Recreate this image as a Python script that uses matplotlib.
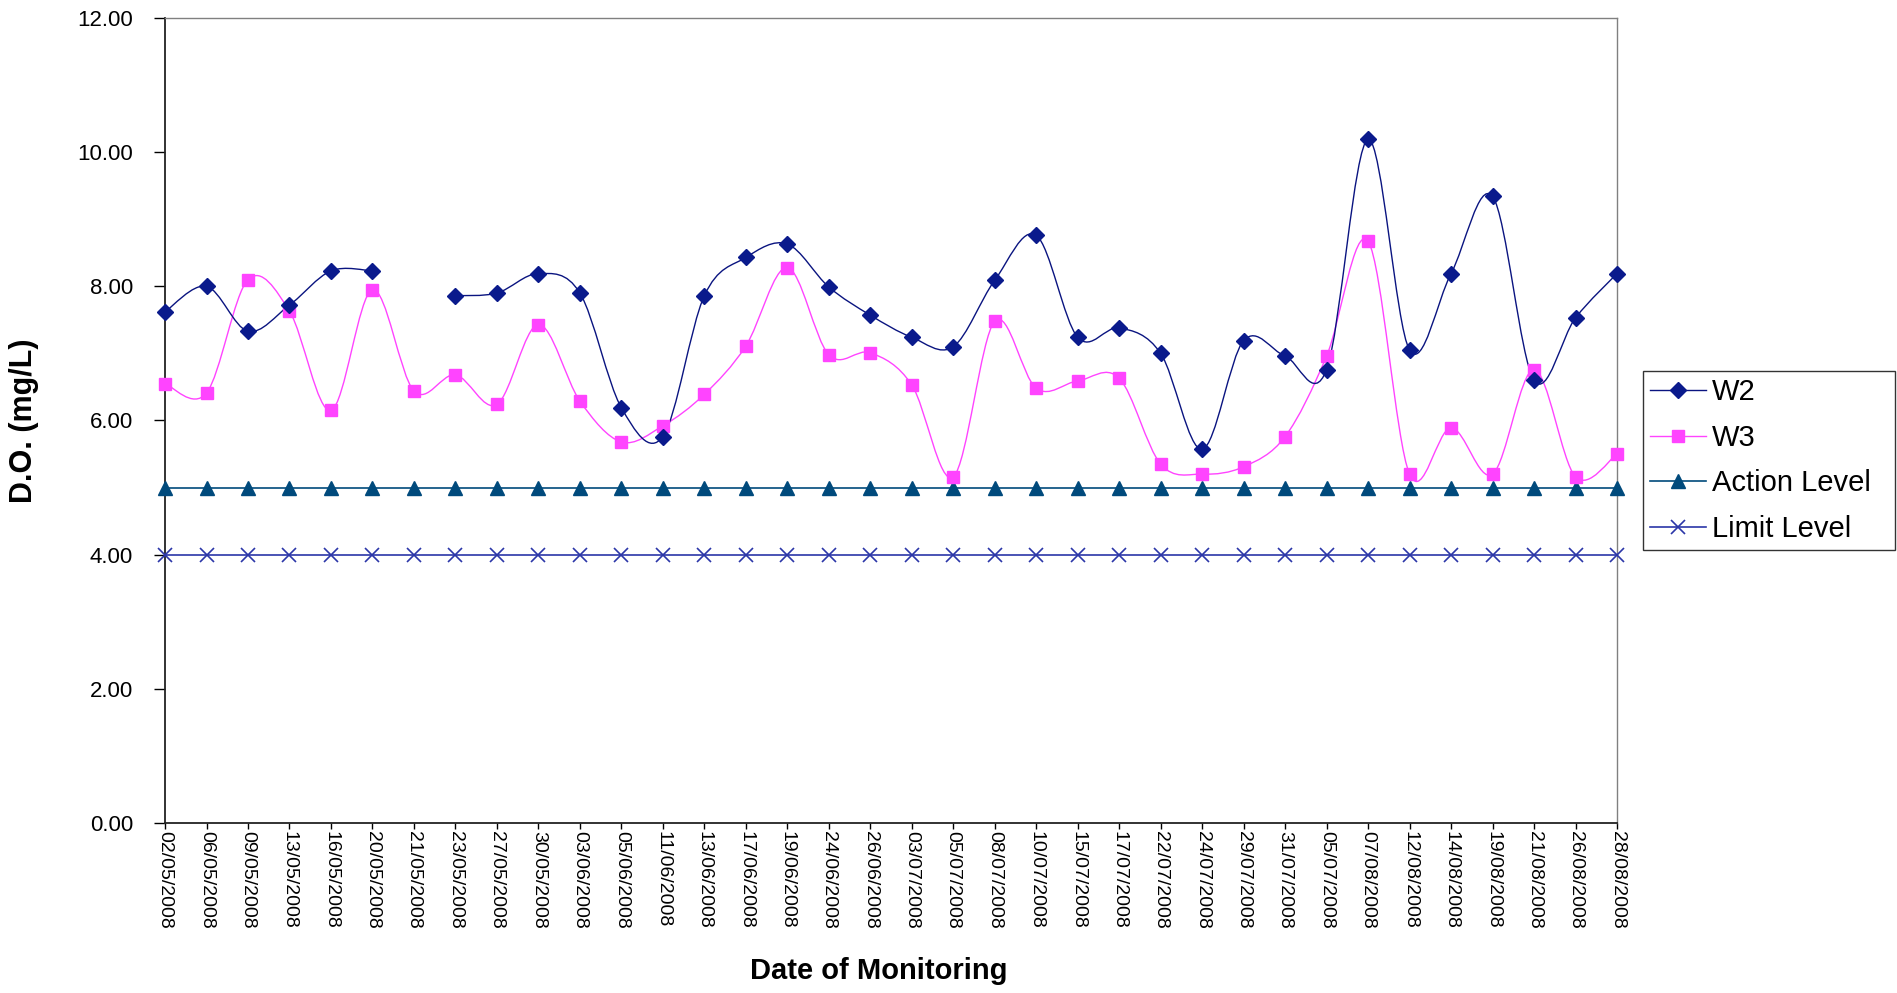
"""D.O. monitoring chart"""

import numpy as np
import matplotlib
from matplotlib import pyplot as plt
from matplotlib.path import Path
from matplotlib.patches import PathPatch
from matplotlib.lines import Line2D

matplotlib.use("Agg")
plt.rcParams["font.family"] = ["Liberation Sans", "DejaVu Sans"]

DATES = [
    "02/05/2008", "06/05/2008", "09/05/2008", "13/05/2008", "16/05/2008", "20/05/2008",
    "21/05/2008", "23/05/2008", "27/05/2008", "30/05/2008", "03/06/2008", "05/06/2008",
    "11/06/2008", "13/06/2008", "17/06/2008", "19/06/2008", "24/06/2008", "26/06/2008",
    "03/07/2008", "05/07/2008", "08/07/2008", "10/07/2008", "15/07/2008", "17/07/2008",
    "22/07/2008", "24/07/2008", "29/07/2008", "31/07/2008", "05/07/2008", "07/08/2008",
    "12/08/2008", "14/08/2008", "19/08/2008", "21/08/2008", "26/08/2008", "28/08/2008",
]
W2 = [7.62, 8.00, 7.33, 7.72, 8.23, 8.23, np.nan, 7.86, 7.90, 8.19, 7.90, 6.19,
      5.76, 7.86, 8.43, 8.63, 7.99, 7.57, 7.24, 7.10, 8.09, 8.76, 7.24, 7.38,
      7.00, 5.57, 7.19, 6.96, 6.76, 10.19, 7.05, 8.19, 9.34, 6.60, 7.53, 8.19]
W3 = [6.55, 6.41, 8.10, 7.63, 6.15, 7.95, 6.44, 6.68, 6.24, 7.43, 6.29, 5.68,
      5.92, 6.39, 7.11, 8.28, 6.98, 7.01, 6.53, 5.16, 7.48, 6.48, 6.59, 6.63,
      5.35, 5.20, 5.31, 5.76, 6.96, 8.67, 5.20, 5.89, 5.20, 6.76, 5.16, 5.50]
ACTION_LEVEL = [5.00] * len(DATES)
LIMIT_LEVEL = [4.00] * len(DATES)
Y_TICKS = [0, 2, 4, 6, 8, 10, 12]

W2_COLOR = "#0A1A8C"
W3_COLOR = "#FF44FF"
ACTION_COLOR = "#004A7C"
LIMIT_COLOR = "#2B36A8"


def smooth_path(xs, ys) -> Path:
    """Excel-like smoothed line through points (bezier, 1/6 tangents)"""
    verts = [(xs[0], ys[0])]
    codes = [Path.MOVETO]
    n = len(xs)
    for i in range(n - 1):
        p0 = np.array([xs[max(i - 1, 0)], ys[max(i - 1, 0)]])
        p1 = np.array([xs[i], ys[i]])
        p2 = np.array([xs[i + 1], ys[i + 1]])
        p3 = np.array([xs[min(i + 2, n - 1)], ys[min(i + 2, n - 1)]])
        c1 = p1 + (p2 - p0) / 6
        c2 = p2 - (p3 - p1) / 6
        verts += [tuple(c1), tuple(c2), tuple(p2)]
        codes += [Path.CURVE4] * 3
    return Path(verts, codes)


def plot_smooth(ax, x, y, color, lw):
    """Draw smoothed line, broken at missing values"""
    y = np.asarray(y, dtype=float)
    seg_x, seg_y = [], []
    for xi, yi in zip(x, y):
        if np.isnan(yi):
            if len(seg_x) > 1:
                ax.add_patch(PathPatch(smooth_path(seg_x, seg_y), fill=False, edgecolor=color, lw=lw))
            seg_x, seg_y = [], []
        else:
            seg_x.append(xi)
            seg_y.append(yi)
    if len(seg_x) > 1:
        ax.add_patch(PathPatch(smooth_path(seg_x, seg_y), fill=False, edgecolor=color, lw=lw))


fig = plt.figure(figsize=(18.97, 9.93), dpi=100)
ax = fig.add_axes([0.087, 0.1712, 0.7654, 0.8107])

x = np.arange(len(DATES))

# levels
ax.plot(x, LIMIT_LEVEL, color=LIMIT_COLOR, lw=1.2, marker="x", ms=10, mew=1.2, clip_on=False, zorder=3)
ax.plot(x, ACTION_LEVEL, color=ACTION_COLOR, lw=1.2, marker="^", ms=10, clip_on=False, zorder=3)

# monitoring stations
plot_smooth(ax, x, W3, W3_COLOR, 1.0)
plot_smooth(ax, x, W2, "#0A1480", 1.0)
ax.plot(x, W3, ls="none", marker="s", ms=9, color=W3_COLOR, clip_on=False, zorder=4)
ax.plot(x, W2, ls="none", marker="D", ms=8, color=W2_COLOR, clip_on=False, zorder=5)

ax.set_xlim(0, len(DATES) - 1)
ax.set_ylim(0, 12)
ax.set_yticks(Y_TICKS)
ax.set_yticklabels([f"{v:.2f}" for v in Y_TICKS], fontsize=16)
ax.set_xticks(x)
ax.set_xticklabels(DATES, rotation=-90, fontsize=14, ha="center", va="top")
ax.tick_params(axis="y", direction="out", length=8, width=1, pad=15)
ax.tick_params(axis="x", direction="out", length=4, width=1, pad=2)

for side in ("left", "bottom"):
    ax.spines[side].set_color("#222222")
    ax.spines[side].set_linewidth(1.3)
for side in ("top", "right"):
    ax.spines[side].set_color("#808080")
    ax.spines[side].set_linewidth(1.0)

fig.text(879 / 1897, 1 - 971 / 993, "Date of Monitoring", fontsize=21, fontweight="bold",
         ha="center", va="center")
fig.text(24 / 1897, 1 - 421 / 993, "D.O. (mg/L)", fontsize=22, fontweight="bold",
         rotation=90, ha="center", va="center")

handles = [
    Line2D([], [], color="#0A1480", lw=1.0, marker="D", ms=8, mfc=W2_COLOR, mec=W2_COLOR),
    Line2D([], [], color=W3_COLOR, lw=1.0, marker="s", ms=9),
    Line2D([], [], color=ACTION_COLOR, lw=1.2, marker="^", ms=10),
    Line2D([], [], color=LIMIT_COLOR, lw=1.2, marker="x", ms=10, mew=1.2),
]
leg = fig.legend(
    handles,
    ["W2", "W3", "Action Level", "Limit Level"],
    loc="upper left",
    bbox_to_anchor=(1643 / 1897, 1 - 552 / 993, 252 / 1897, 181 / 993),
    mode="expand",
    fontsize=21,
    frameon=True,
    fancybox=False,
    edgecolor="black",
    handlelength=1.9,
    handletextpad=0.2,
    labelspacing=0.6,
    borderpad=0.25,
    borderaxespad=0,
)
leg.get_frame().set_linewidth(1.0)

fig.savefig("out.png", dpi=100)
